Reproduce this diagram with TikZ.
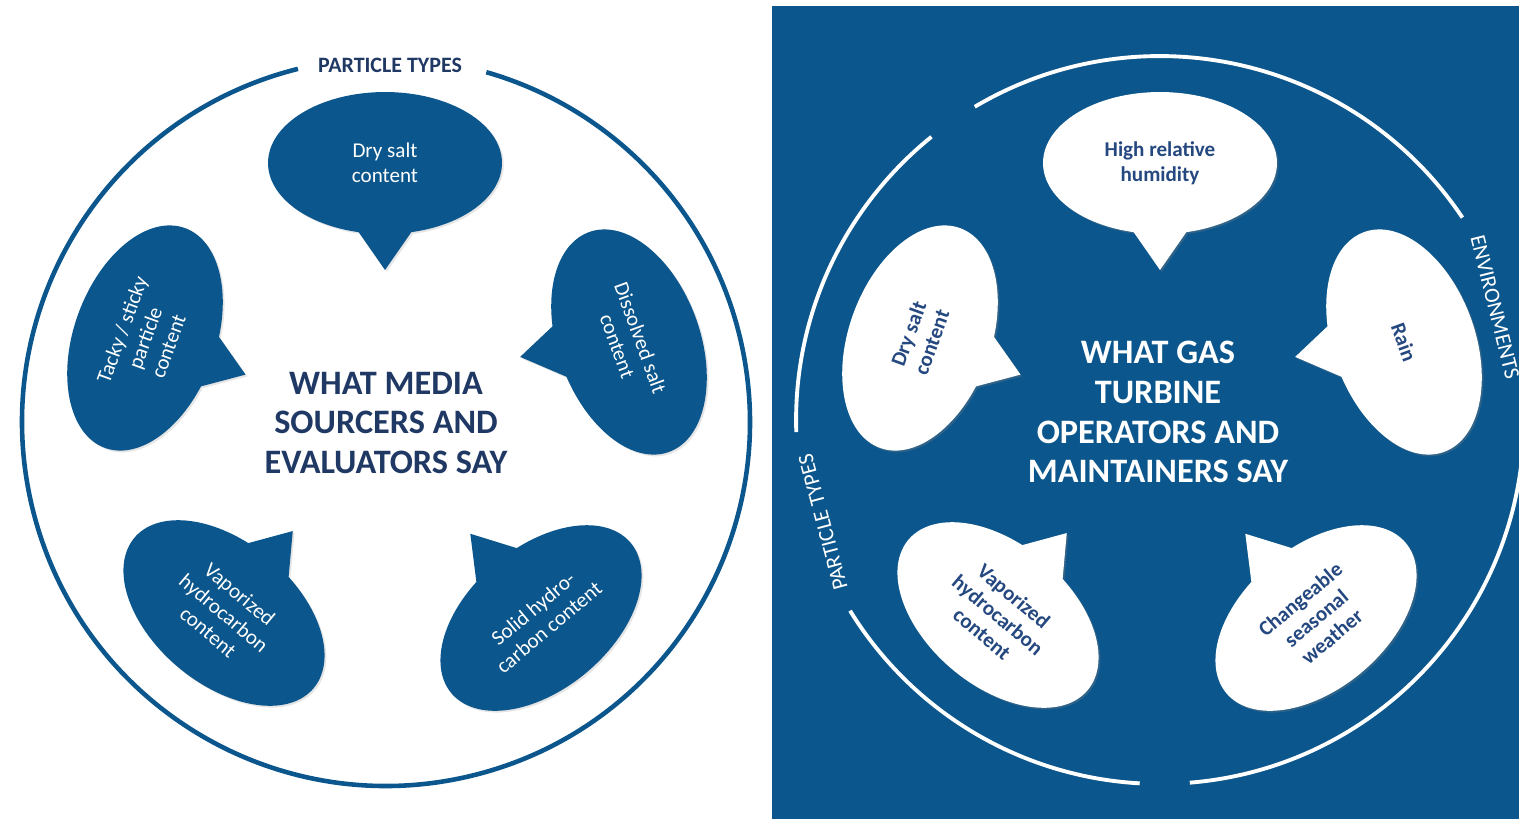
\documentclass[tikz,border=0pt]{standalone}
\usepackage{fontspec}
\setmainfont{Carlito}
\usepackage{xcolor}
\usepackage{tikz}
\usetikzlibrary{shapes.callouts, shadows}

\definecolor{panelblue}{HTML}{0B568C}
\definecolor{navy}{HTML}{1F3864}
\definecolor{inkblue}{HTML}{24487F}

\begin{document}
\begin{tikzpicture}[
      x=0.02cm, y=-0.02cm,
      bubble/.style={ellipse callout, minimum width=4.68cm, minimum height=2.84cm,
                     inner sep=0pt, callout pointer arc=26, align=center},
      darkbub/.style={bubble, fill=panelblue, text=white,
                      font=\fontsize{12}{14}\selectfont,
                      drop shadow={opacity=0.2, shadow xshift=1pt, shadow yshift=-1pt}},
      lightbub/.style={bubble, fill=white, text=inkblue,
                       font=\fontsize{12}{14}\selectfont\bfseries,
                       drop shadow={opacity=0.3, shadow xshift=1pt, shadow yshift=-1pt}},
      say/.style={align=center, font=\fontsize{19.5}{22.7}\selectfont\bfseries},
      tag/.style={font=\fontsize{12.5}{14}\selectfont},
      ring/.style={line width=2.6pt}
    ]
    \useasboundingbox (0,0) rectangle (1519,819);
    \fill[white] (0,0) rectangle (1519,819);

    % left panel
    \coordinate (lc) at (386,422);
    \draw[ring, panelblue] (lc) ++(104:7.28cm) arc[start angle=104, end angle=434, radius=7.28cm];
    \node[tag, text=navy, font=\fontsize{12.5}{14}\selectfont\bfseries] (ltypes) at (390,65) {PARTICLE TYPES};

    \node[darkbub, callout relative pointer={(0,36)}] (ldry) at (385,163) {Dry salt\\content};
    \node[darkbub, rotate=70, callout relative pointer={(0,36)}] (ltacky) at (145,338) {Tacky / sticky\\particle\\content};
    \node[darkbub, rotate=-70, callout relative pointer={(-8,37)}] (ldiss) at (629,342) {Dissolved salt\\content};
    \node[darkbub, rotate=-40, callout relative pointer={(0,-36)}] (lvapor) at (224,613) {Vaporized\\hydrocarbon\\content};
    \node[darkbub, rotate=40, callout relative pointer={(0,-39)}] (lsolid) at (541,618) {Solid hydro-\\carbon content};

    \node[say, text=navy] (media) at (386,423) {WHAT MEDIA\\SOURCERS AND\\EVALUATORS SAY};

    % right panel
    \fill[panelblue] (772,6) rectangle (1519,819);
    \coordinate (rc) at (1160,420);
    \draw[ring, white, line width=2.2pt] (rc) ++(33.8:7.28cm) arc[start angle=33.8, end angle=120.6, radius=7.28cm];
    \draw[ring, white, line width=2.2pt] (rc) ++(128.9:7.28cm) arc[start angle=128.9, end angle=181.9, radius=7.28cm];
    \draw[ring, white, line width=2.2pt] (rc) ++(211.6:7.28cm) arc[start angle=211.6, end angle=266.8, radius=7.28cm];
    \draw[ring, white, line width=2.2pt] (rc) ++(274.7:7.28cm) arc[start angle=274.7, end angle=362, radius=7.28cm];
    \node[tag, text=white, rotate=105] (rtypes) at (823,522) {PARTICLE TYPES};
    \node[tag, text=white, rotate=-76] (renv) at (1495,307) {ENVIRONMENTS};

    \node[lightbub, callout relative pointer={(0,36)}] (rhum) at (1160,163) {High relative\\humidity};
    \node[lightbub, rotate=70, callout relative pointer={(0,36)}] (rdry) at (920,338) {Dry salt\\content};
    \node[lightbub, rotate=-70, callout relative pointer={(-8,37)}] (rrain) at (1404,342) {Rain};
    \node[lightbub, rotate=-40, callout relative pointer={(0,-36)}] (rvapor) at (998,615) {Vaporized\\hydrocarbon\\content};
    \node[lightbub, rotate=40, callout relative pointer={(0,-39)}] (rweather) at (1316,618) {Changeable\\seasonal\\weather};

    \node[say, text=white] (gas) at (1158,412) {WHAT GAS\\TURBINE\\OPERATORS AND\\MAINTAINERS SAY};
  \end{tikzpicture}
\end{document}
